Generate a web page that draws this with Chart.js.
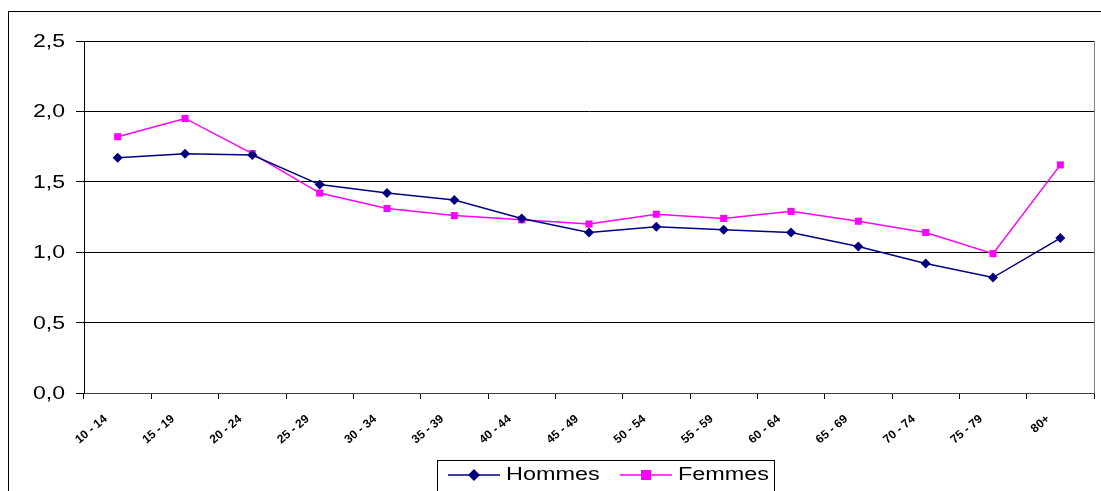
<!DOCTYPE html>
<html>
<head>
<meta charset="utf-8">
<script src="https://cdn.jsdelivr.net/npm/chart.js@4/dist/chart.umd.min.js"></script>
<style>
  html, body { margin: 0; padding: 0; background: #fff; }
  #wrap { width: 1101px; height: 491px; position: relative; }
</style>
</head>
<body>
<div id="wrap"><canvas id="chart" width="1101" height="491"></canvas></div>
<script>
const ageGroups = ["10 - 14", "15 - 19", "20 - 24", "25 - 29", "30 - 34", "35 - 39", "40 - 44",
  "45 - 49", "50 - 54", "55 - 59", "60 - 64", "65 - 69", "70 - 74", "75 - 79", "80+"];
const hommes = [1.67, 1.70, 1.69, 1.48, 1.42, 1.37, 1.24, 1.14, 1.18, 1.16, 1.14, 1.04, 0.92, 0.82, 1.10];
const femmes = [1.82, 1.95, 1.70, 1.42, 1.31, 1.26, 1.23, 1.20, 1.27, 1.24, 1.29, 1.22, 1.14, 0.99, 1.62];
const yTicks = [0, 0.5, 1, 1.5, 2, 2.5];

const navy = "#000080";
const magenta = "#ff00ff";
const fontFamily = "'Liberation Sans', Arial, sans-serif";

// text drawn a little wider than the font, like the original
function wideText(c, text, x, y, align, stretch) {
  c.save();
  c.translate(x, y);
  c.scale(stretch, 1);
  c.textAlign = align;
  c.fillText(text, 0, 0);
  c.restore();
}

// frame, y labels, right border of the plot and the boxed legend
const decorations = {
  id: "decorations",
  afterDraw(chart) {
    const c = chart.ctx;
    const a = chart.chartArea;
    const yScale = chart.scales.y;
    c.save();
    c.strokeStyle = "#000";
    c.lineWidth = 1;
    c.strokeRect(8.5, 11.5, 1200, 600);

    c.strokeStyle = "#808080";
    c.beginPath();
    c.moveTo(Math.round(a.right) + 0.5, a.top);
    c.lineTo(Math.round(a.right) + 0.5, a.bottom);
    c.stroke();

    // y tick labels
    c.fillStyle = "#000";
    c.font = "18px " + fontFamily;
    c.textBaseline = "middle";
    yTicks.forEach(v => {
      wideText(c, v.toFixed(1).replace(".", ","), 65, yScale.getPixelForValue(v) + 1, "right", 1.28);
    });

    // legend
    c.strokeStyle = "#000";
    c.strokeRect(437.5, 460.5, 337, 40);
    const items = [
      { x: 448, ds: chart.data.datasets[0] },
      { x: 620, ds: chart.data.datasets[1] }
    ];
    items.forEach(it => {
      const y = 475;
      c.strokeStyle = it.ds.borderColor;
      c.lineWidth = 1.5;
      c.beginPath();
      c.moveTo(it.x, y);
      c.lineTo(it.x + 52, y);
      c.stroke();
      c.fillStyle = it.ds.borderColor;
      const mx = it.x + 26;
      if (it.ds.pointStyle === "rectRot") {
        c.beginPath();
        c.moveTo(mx, y - 6);
        c.lineTo(mx + 6, y);
        c.lineTo(mx, y + 6);
        c.lineTo(mx - 6, y);
        c.closePath();
        c.fill();
      } else {
        c.fillRect(mx - 5, y - 5, 10, 10);
      }
      c.fillStyle = "#000";
      c.font = "18px " + fontFamily;
      c.textBaseline = "middle";
      wideText(c, it.ds.label, it.x + 58, y, "left", 1.3);
    });
    c.restore();
  }
};

new Chart(document.getElementById("chart"), {
  type: "line",
  data: {
    labels: ageGroups,
    datasets: [
      {
        label: "Hommes",
        data: hommes,
        borderColor: navy,
        backgroundColor: navy,
        borderWidth: 1.5,
        pointStyle: "rectRot",
        pointRadius: 5,
        pointHoverRadius: 5,
        pointBorderWidth: 0,
        tension: 0
      },
      {
        label: "Femmes",
        data: femmes,
        borderColor: magenta,
        backgroundColor: magenta,
        borderWidth: 1.5,
        pointStyle: "rect",
        pointRadius: 5,
        pointHoverRadius: 5,
        pointBorderWidth: 0,
        tension: 0
      }
    ]
  },
  options: {
    responsive: false,
    animation: false,
    layout: { padding: { left: 8, top: 41, right: 7, bottom: 0 } },
    plugins: {
      legend: { display: false },
      tooltip: { enabled: false }
    },
    scales: {
      x: {
        offset: true,
        afterFit(scale) { scale.height = 98; },
        grid: {
          offset: true,
          drawOnChartArea: false,
          color: "#000",
          tickLength: 6
        },
        border: { color: "#404040", width: 1 },
        ticks: {
          minRotation: 40,
          maxRotation: 40,
          autoSkip: false,
          padding: 13,
          labelOffset: -12,
          color: "#000",
          font: { family: fontFamily, size: 12, weight: "bold" }
        }
      },
      y: {
        min: 0,
        max: 2.5,
        afterFit(scale) { scale.width = 76; },
        afterBuildTicks(scale) {
          scale.ticks = yTicks.map(v => ({ value: v }));
        },
        grid: {
          color: "#000",
          tickLength: 8
        },
        border: { color: "#000", width: 1 },
        ticks: {
          color: "rgba(0,0,0,0)",
          padding: 10,
          font: { family: fontFamily, size: 17 },
          callback: v => v.toFixed(1).replace(".", ",")
        }
      }
    }
  },
  plugins: [decorations]
});
</script>
</body>
</html>
